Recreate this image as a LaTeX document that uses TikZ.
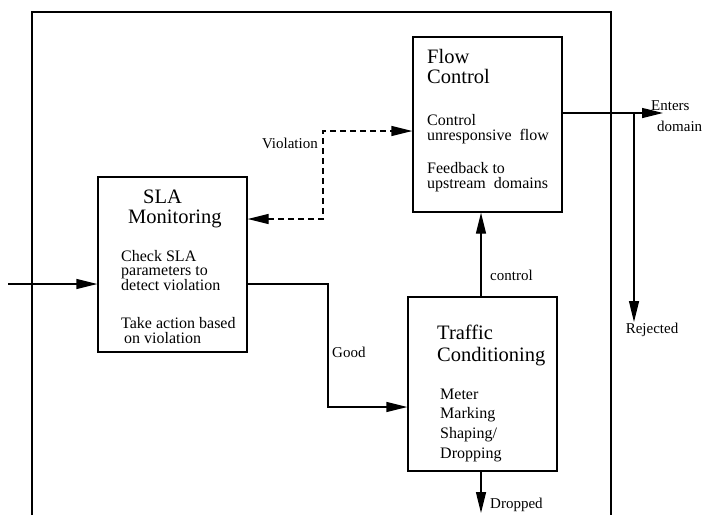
\documentclass[tikz,border=0pt]{standalone}
\usepackage{fontspec}
\setmainfont{Liberation Serif}
\usetikzlibrary{arrows.meta}
\tikzset{
  box/.style={draw, line width=1.3pt, rectangle, inner sep=0pt},
  title/.style={anchor=base west, inner sep=0pt, font=\fontsize{20.5}{21}\selectfont},
  body/.style={anchor=base west, inner sep=0pt, font=\fontsize{16}{16}\selectfont},
  lbl/.style={inner sep=0pt, font=\fontsize{15}{15}\selectfont},
  conn/.style={line width=1.3pt, -{Triangle[length=21pt,width=10pt]}},
  dconn/.style={line width=1.3pt, dash pattern=on 6pt off 4pt, {Triangle[length=21pt,width=10pt]}-{Triangle[length=21pt,width=10pt]}},
  wire/.style={line width=1.3pt}
}
\begin{document}
\begin{tikzpicture}[x=1pt,y=-1pt]
\useasboundingbox (0,0) rectangle (703,515);
% outer domain boundary
\draw[wire] (32,515) -- (32,12) -- (611,12) -- (611,515);
% boxes
\node[box, minimum width=149pt, minimum height=175pt] (fc) at (487.5,124.5) {};
\node[box, minimum width=149pt, minimum height=175pt] (sla) at (172.5,264.5) {};
\node[box, minimum width=149pt, minimum height=174pt] (tc) at (482.5,384) {};
% Flow control text
\node[title] (fc1) at (427,63) {Flow};
\node[title] (fc2) at (427,83) {Control};
\node[body] (fc3) at (427,125) {Control};
\node[body] (fc4) at (427,140) {unresponsive\ \ flow};
\node[body] (fc5) at (427,173) {Feedback to};
\node[body] (fc6) at (427,188) {upstream\ \ domains};
% SLA text
\node[title] (s1) at (143,203) {SLA};
\node[title] (s2) at (128,223) {Monitoring};
\node[body] (s3) at (121,261) {Check SLA};
\node[body] (s4) at (121,275.5) {parameters to};
\node[body] (s5) at (121,290) {detect violation};
\node[body] (s6) at (121,328) {Take action based};
\node[body] (s7) at (124,343) {on violation};
% Traffic conditioning text
\node[title] (t1) at (437,339) {Traffic};
\node[title] (t2) at (437,361) {Conditioning};
\node[body] (t3) at (440,399) {Meter};
\node[body] (t4) at (440,418.5) {Marking};
\node[body] (t5) at (440,438) {Shaping/};
\node[body] (t6) at (440,458) {Dropping};
% coordinates
\coordinate (in) at (8,284);
\coordinate (g1) at (328,284);
\coordinate (g2) at (328,407);
\coordinate (d1) at (323,219);
\coordinate (d2) at (323,131);
\coordinate (cx) at (481,0);
\coordinate (drop) at (481,513);
\coordinate (ent) at (663,113);
\coordinate (rj) at (634,322);
% connectors
\draw[conn] (in) -- (sla.west |- in);
\draw[conn] (sla.east |- g1) -- (g1) -- (g2) -- (tc.west |- g2);
\draw[dconn] (sla.east |- d1) -- (d1) -- (d2) -- (fc.west |- d2);
\draw[conn] (tc.north -| cx) -- (fc.south -| cx);
\draw[conn] (tc.south -| cx) -- (drop);
\draw[conn] (fc.east |- ent) -- (ent);
\draw[conn] (ent -| rj) -- (rj);
% labels
\node[lbl, anchor=east] (lv) at (318,143) {Violation};
\node[lbl, anchor=west] (lg) at (332,352) {Good};
\node[lbl, anchor=west] (lc) at (490,275) {control};
\node[lbl, anchor=west] (ld) at (490,505) {Dropped};
\node[lbl, anchor=base west] (le) at (651,110) {Enters};
\node[lbl, anchor=base west] (le2) at (657,131) {domain};
\node[lbl] (lr) at (652,330) {Rejected};
\end{tikzpicture}
\end{document}
